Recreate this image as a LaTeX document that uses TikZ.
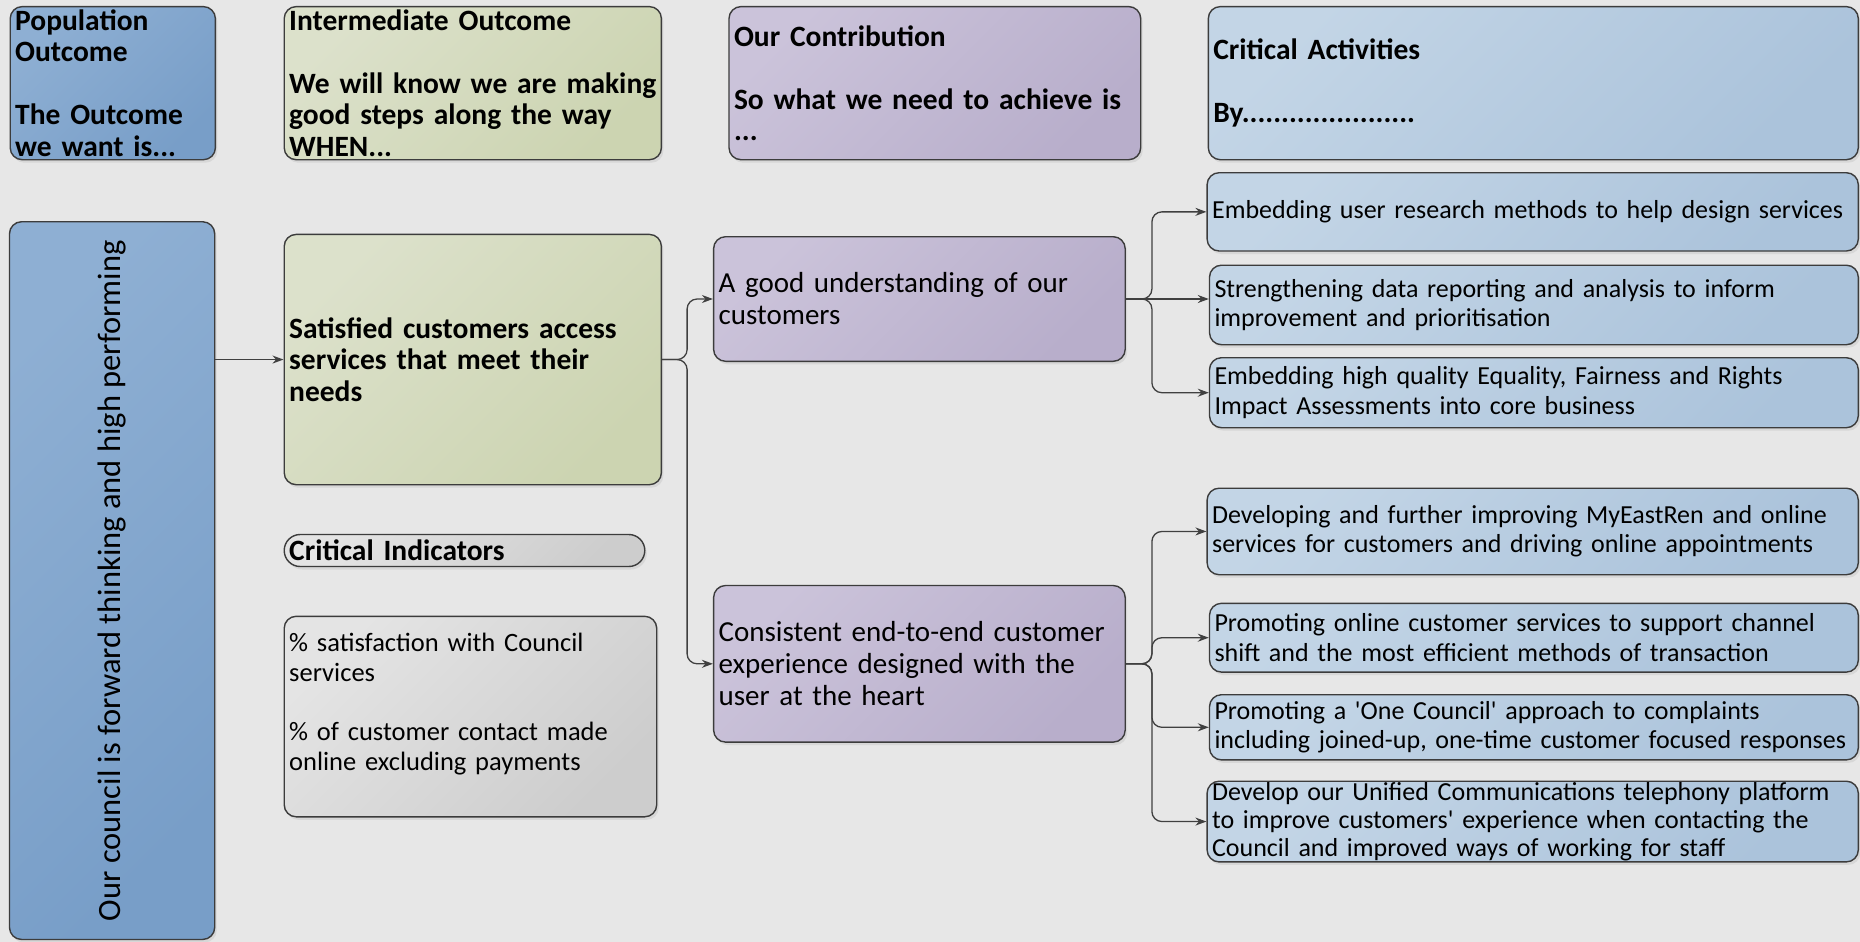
\documentclass[tikz,border=0pt]{standalone}
\usepackage{fontspec}
\setmainfont{Carlito}[Ligatures=TeXOff]
\usetikzlibrary{arrows.meta,shadows}
\definecolor{bg}{HTML}{E7E7E7}
\definecolor{bordc}{HTML}{3C3C3C}
\definecolor{connc}{HTML}{404040}
\definecolor{popA}{HTML}{8EAFD3}
\definecolor{popB}{HTML}{789EC8}
\definecolor{intA}{HTML}{DCE1CB}
\definecolor{intB}{HTML}{CCD4B1}
\definecolor{conA}{HTML}{CBC3DA}
\definecolor{conB}{HTML}{B8AECB}
\definecolor{actA}{HTML}{C3D5E6}
\definecolor{actB}{HTML}{ABC3DB}
\definecolor{grayA}{HTML}{E4E4E4}
\definecolor{grayB}{HTML}{CDCDCD}
\tikzset{
 box/.style={draw=bordc, line width=1.4pt, rounded corners=12pt, anchor=north west, inner xsep=5pt, inner ysep=2pt, align=left, drop shadow={opacity=0.15, shadow xshift=2pt, shadow yshift=-3pt}},
 sz/.style n args={3}{minimum width=#1pt, text width=#2pt, minimum height=#3pt},
 hdrfont/.style={font=\bfseries\fontsize{29.5}{31.5}\selectfont},
 actfont/.style={font=\fontsize{26}{29.5}\selectfont},
 indfont/.style={font=\fontsize{26.5}{29.7}\selectfont},
 purfont/.style={font=\fontsize{29}{32}\selectfont},
 bluefill/.style={top color=popA, bottom color=popB, shading angle=45},
 greenfill/.style={top color=intA, bottom color=intB, shading angle=45},
 purplefill/.style={top color=conA, bottom color=conB, shading angle=45},
 actfill/.style={top color=actA, bottom color=actB, shading angle=45},
 grayfill/.style={top color=grayA, bottom color=grayB, shading angle=45},
 conn/.style={draw=connc, line width=1.3pt, rounded corners=10pt, -{Stealth[length=11pt,width=8pt]}},
}
\begin{document}
\begin{tikzpicture}[x=1pt,y=-1pt]
\fill[bg] (0,0) rectangle (1860,942);
\useasboundingbox (0,0) rectangle (1860,942);

% header row
\node[box,bluefill,hdrfont,sz={205.2}{195.2}{153.1}] (pop) at (9.5,5.9) {Population\\Outcome\\~\\The Outcome\\we want is...};
\node[box,greenfill,hdrfont,sz={377.2}{367.2}{153.1}] (inter) at (283.5,5.9) {Intermediate Outcome\\~\\We will know we are making\\good steps along the way\\WHEN...};
\node[box,purplefill,hdrfont,sz={411.7}{401.7}{153.1}] (contrib) at (728.3,5.9) {Our Contribution\\~\\So what we need to achieve is\\...};
\node[box,actfill,hdrfont,sz={650}{640}{153.1}] (critact) at (1207.6,5.9) {Critical Activities\\~\\By......................};

% main
\node[box,bluefill,rotate=90,anchor=center,minimum width=717.7pt,minimum height=205.2pt,font=\fontsize{32.5}{36}\selectfont,align=center] (outc) at (112.1,580.6) {Our council is forward thinking and high performing};
\node[box,greenfill,hdrfont,sz={377.2}{367.2}{250.3}] (sat) at (283.5,233.7) {Satisfied customers access\\services that meet their\\needs};
\node[box,grayfill,hdrfont,rounded corners=16pt,inner ysep=0pt,sz={360.6}{350.6}{32}] (critind) at (283.5,533.8) {Critical Indicators};
\node[box,grayfill,indfont,sz={372.5}{362.5}{200.5}] (ind) at (283.5,615.6) {\% satisfaction with Council\\services\\~\\\% of customer contact made\\online excluding payments\\~};

\node[box,purplefill,purfont,sz={411.6}{401.6}{124.6}] (agood) at (712.9,236) {A good understanding of our\\customers};
\node[box,purplefill,purfont,sz={411.6}{401.6}{156.6}] (cons) at (712.9,584.8) {Consistent end-to-end customer\\experience designed with the\\user at the heart};

\node[box,actfill,actfont,sz={651.2}{641.2}{78.3}] (a1) at (1206.4,172) {Embedding user research methods to help design services};
\node[box,actfill,actfont,sz={648.8}{638.8}{79.5}] (a2) at (1208.8,264.5) {Strengthening data reporting and analysis to inform\\improvement and prioritisation};
\node[box,actfill,actfont,sz={648.8}{638.8}{70}] (a3) at (1208.8,357) {Embedding high quality Equality, Fairness and Rights\\Impact Assessments into core business};
\node[box,actfill,actfont,sz={651.2}{641.2}{86.5}] (b1) at (1206.4,487.5) {Developing and further improving MyEastRen and online\\services for customers and driving online appointments};
\node[box,actfill,actfont,sz={648.8}{638.8}{68.8}] (b2) at (1208.8,602.6) {Promoting online customer services to support channel\\shift and the most efficient methods of transaction};
\node[box,actfill,actfont,sz={648.8}{638.8}{65.2}] (b3) at (1208.8,694) {Promoting a 'One Council' approach to complaints\\including joined-up, one-time customer focused responses};
\node[box,actfill,font=\fontsize{26}{28}\selectfont,inner ysep=0pt,sz={651.2}{641.2}{80.7}] (b4) at (1206.4,780.5) {Develop our Unified Communications telephony platform\\to improve customers' experience when contacting the\\Council and improved ways of working for staff};

% connectors
\draw[conn] (outc.south |- sat.west) -- (sat.west);
\draw[conn] (sat.east) -- ++(25,0) |- (agood.west);
\draw[conn] (sat.east) -- ++(25,0) |- (cons.west);
\draw[conn] (agood.east) -- ++(26,0) |- (a1.west);
\draw[conn] (agood.east) -- (agood.east -| a2.west);
\draw[conn] (agood.east) -- ++(26,0) |- (a3.west);
\draw[conn] (cons.east) -- ++(26,0) |- (b1.west);
\draw[conn] (cons.east) -- ++(26,0) |- (b2.west);
\draw[conn] (cons.east) -- ++(26,0) |- (b3.west);
\draw[conn] (cons.east) -- ++(26,0) |- (b4.west);
\end{tikzpicture}
\end{document}
